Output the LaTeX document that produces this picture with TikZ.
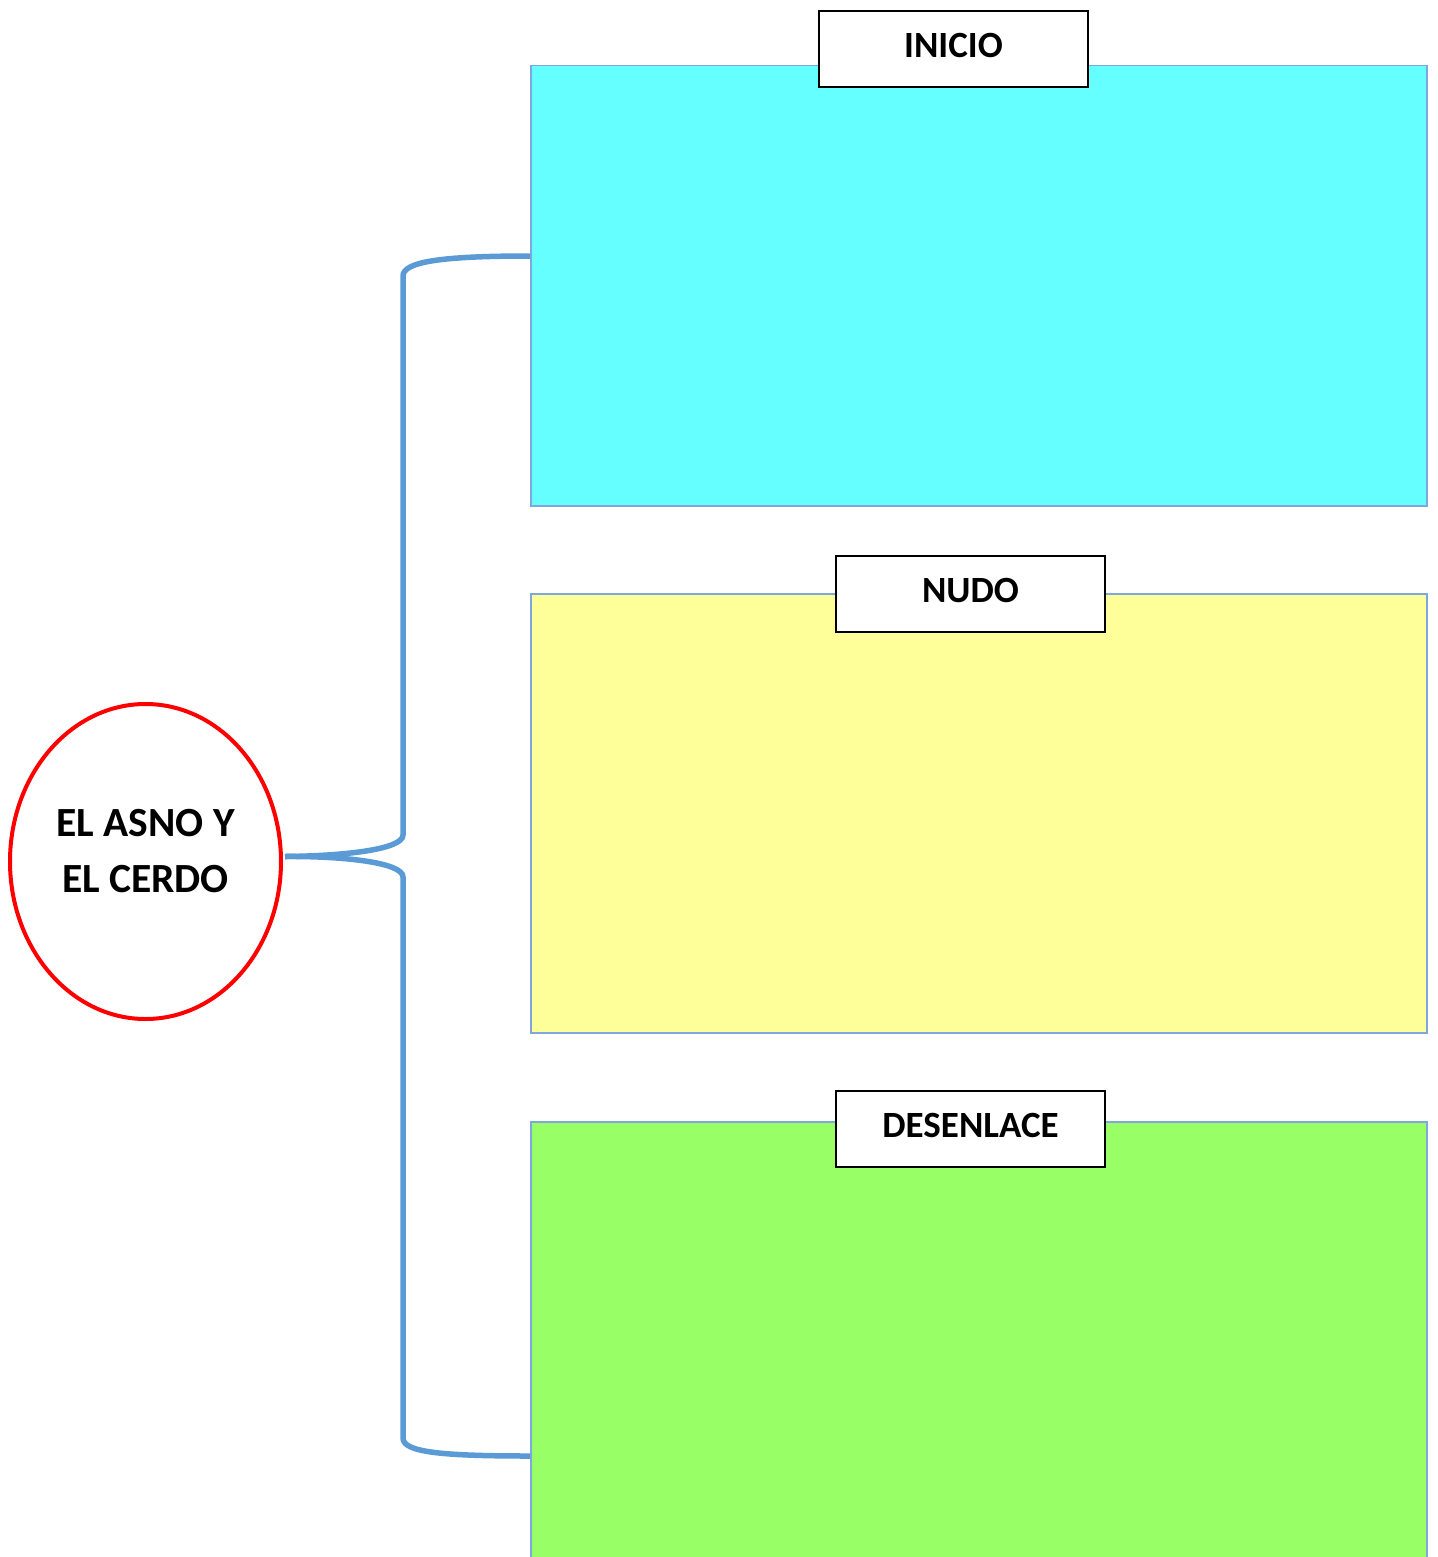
\documentclass[tikz,border=0pt]{standalone}
\usepackage{fontspec}
\setmainfont{Carlito}
\usetikzlibrary{shapes.geometric}
\definecolor{cyanbox}{HTML}{66FFFF}
\definecolor{yellowbox}{HTML}{FFFF99}
\definecolor{greenbox}{HTML}{99FF66}
\definecolor{boxedge}{HTML}{7FA6DD}
\definecolor{bracecol}{HTML}{5B9BD5}
\tikzset{
  panel/.style={draw=boxedge, line width=1.5pt, anchor=north west, minimum width=896pt, inner sep=0pt},
  tag/.style={draw=black, fill=white, line width=2pt, minimum width=269pt, minimum height=76pt, inner sep=0pt},
  tagtext/.style={inner sep=0pt, font=\fontsize{37}{44}\selectfont\bfseries},
  brace/.style={draw=bracecol, line width=5.5pt},
  title/.style={ellipse, draw=red, line width=4pt, minimum width=271pt, minimum height=315pt, inner sep=0pt},
  titletext/.style={inner sep=0pt, align=center, font=\fontsize{41.5}{56}\selectfont\bfseries}
}
\begin{document}
\begin{tikzpicture}[x=1pt,y=-1pt]
\useasboundingbox (0,0) rectangle (1437,1557);
\clip (0,0) rectangle (1437,1557);
\node[panel, fill=cyanbox, minimum height=440pt] (inicio) at (530,65) {};
\node[panel, fill=yellowbox, minimum height=439pt] (nudo) at (530,593) {};
\node[panel, fill=greenbox, minimum height=520pt] (desenlace) at (530,1121) {};
\node[tag] (tinicio) at (953.5,49) {};
\node[tagtext] (linicio) at ([yshift=4pt]tinicio.center) {INICIO};
\node[tag] (tnudo) at (970.5,594) {};
\node[tagtext] (lnudo) at ([yshift=4pt]tnudo.center) {NUDO};
\node[tag] (tdesenlace) at (970.5,1129) {};
\node[tagtext] (ldesenlace) at ([yshift=4pt]tdesenlace.center) {DESENLACE};
\node[title] (asno) at (145.5,861.5) {};
\node[titletext] (asnotext) at ([yshift=10pt]asno.center) {EL ASNO Y\\EL CERDO};
\coordinate (tip) at ([xshift=2pt,yshift=5pt]asno.east);
\coordinate (a1) at (inicio.west |- 0,256);
\coordinate (a3) at (desenlace.west |- 0,1456);
\draw[brace] (a1) .. controls (440,256) and (403,262) .. (403,276)
  -- (403,835) .. controls (403,850) and (340,856) .. (tip);
\draw[brace] (tip) .. controls (340,856) and (403,862) .. (403,877)
  -- (403,1438) .. controls (403,1452) and (440,1456) .. (a3);
\end{tikzpicture}
\end{document}
